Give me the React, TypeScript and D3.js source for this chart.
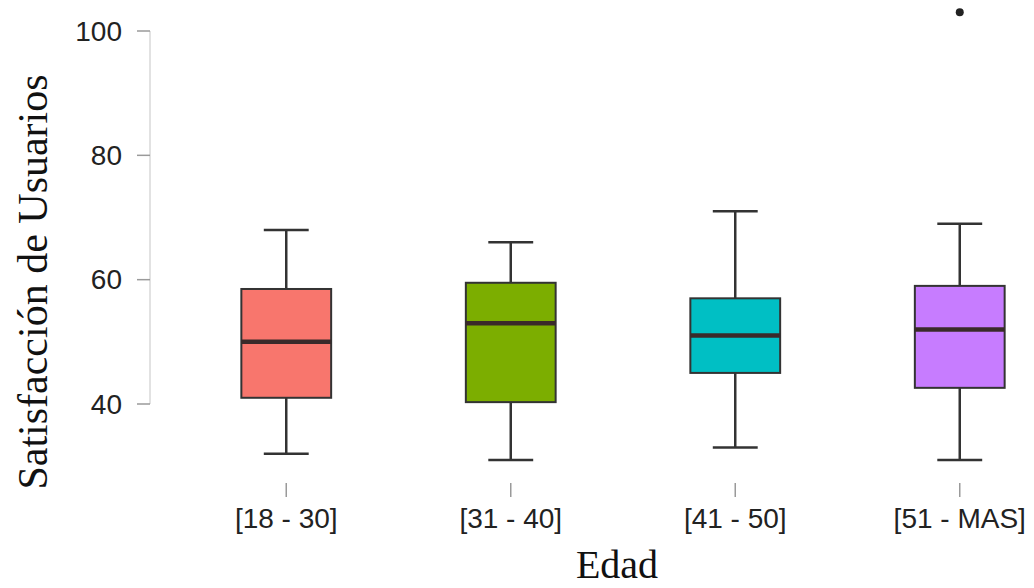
import React from "react";
import * as d3 from "d3";

const categories = ["[18 - 30]", "[31 - 40]", "[41 - 50]", "[51 - MAS]"];
const whiskerLow = [32, 31, 33, 31];
const q1 = [41, 40.3, 45, 42.6];
const medians = [50, 53, 51, 52];
const q3 = [58.5, 59.5, 57, 59];
const whiskerHigh = [68, 66, 71, 69];
const outliers: [number, number][] = [[3, 103]];
const colors = ["#F8766D", "#7CAE00", "#00BFC4", "#C77CFF"];
const yTicks = [40, 60, 80, 100];

export default function App() {
  const W = 1034, H = 588;
  const x = d3.scaleBand<string>().domain(categories).range([174, 1072]);
  const y = d3.scaleLinear().domain([40, 100]).range([404, 31]);
  const bw = x.step() * 0.4;
  const capW = x.step() * 0.2;
  const cx = (c: string) => (x(c) as number) + x.bandwidth() / 2;
  const stroke = "#333333";
  return (
    <svg width={W} height={H} style={{ position: "absolute", left: 0, top: 0, background: "#fff" }}>
      {/* y axis */}
      <line x1={150} x2={150} y1={y(100)} y2={y(40)} stroke="#d9d9d9" strokeWidth={1.5} />
      {yTicks.map((t) => (
        <g key={t}>
          <line x1={137} x2={150} y1={y(t)} y2={y(t)} stroke="#9a9a9a" strokeWidth={1.5} />
          <text x={122} y={y(t)} dy="0.35em" textAnchor="end" fontFamily="Liberation Sans, Arial, sans-serif" fontSize={28} fill="#222">
            {t}
          </text>
        </g>
      ))}
      {/* x ticks */}
      {categories.map((c) => (
        <g key={c}>
          <line x1={cx(c)} x2={cx(c)} y1={483} y2={497} stroke="#9a9a9a" strokeWidth={1.5} />
          <text x={cx(c)} y={528} textAnchor="middle" fontFamily="Liberation Sans, Arial, sans-serif" fontSize={28} fill="#222">
            {c}
          </text>
        </g>
      ))}
      {/* boxes */}
      {categories.map((c, i) => {
        const m = cx(c);
        return (
          <g key={"b" + c}>
            <line x1={m} x2={m} y1={y(whiskerHigh[i])} y2={y(q3[i])} stroke={stroke} strokeWidth={2.5} />
            <line x1={m} x2={m} y1={y(q1[i])} y2={y(whiskerLow[i])} stroke={stroke} strokeWidth={2.5} />
            <line x1={m - capW / 2} x2={m + capW / 2} y1={y(whiskerHigh[i])} y2={y(whiskerHigh[i])} stroke={stroke} strokeWidth={2.5} />
            <line x1={m - capW / 2} x2={m + capW / 2} y1={y(whiskerLow[i])} y2={y(whiskerLow[i])} stroke={stroke} strokeWidth={2.5} />
            <rect x={m - bw / 2} y={y(q3[i])} width={bw} height={y(q1[i]) - y(q3[i])} fill={colors[i]} stroke={stroke} strokeWidth={2} />
            <line x1={m - bw / 2} x2={m + bw / 2} y1={y(medians[i])} y2={y(medians[i])} stroke="#3a2a2a" strokeWidth={4.5} />
          </g>
        );
      })}
      {outliers.map(([i, v], k) => (
        <circle key={"o" + k} cx={cx(categories[i])} cy={y(v)} r={4} fill="#222" />
      ))}
      {/* titles */}
      <text transform={`translate(47,282) rotate(-90)`} textAnchor="middle" fontFamily="Liberation Serif, Times New Roman, serif" fontSize={42} fill="#111">
        Satisfacción de Usuarios
      </text>
      <text x={617} y={578} textAnchor="middle" fontFamily="Liberation Serif, Times New Roman, serif" fontSize={40} fill="#111">
        Edad
      </text>
    </svg>
  );
}
